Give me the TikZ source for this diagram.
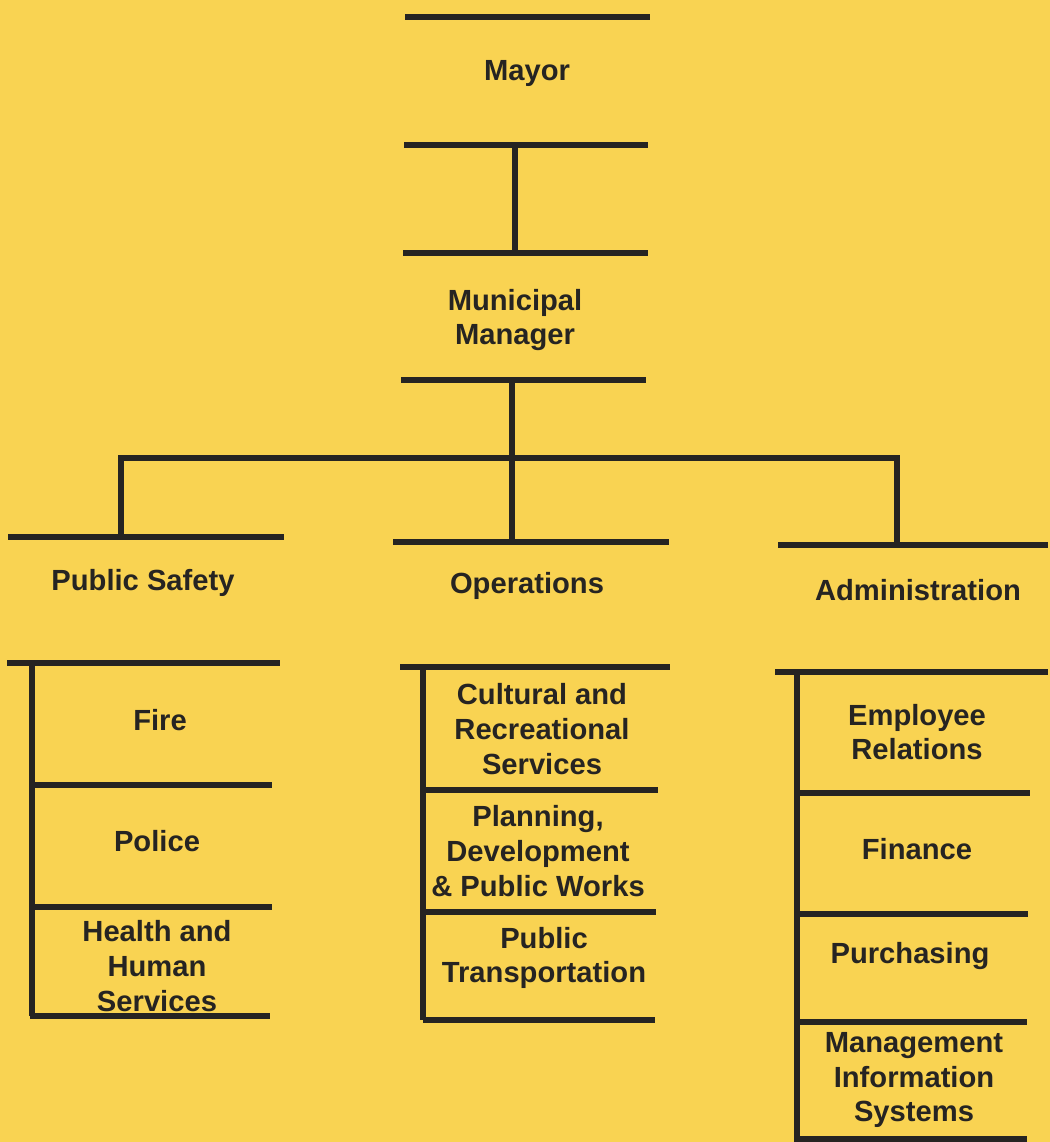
\documentclass[tikz,border=0pt]{standalone}
\usepackage{fontspec}
\setmainfont{Liberation Sans}
\definecolor{chartbg}{RGB}{249,211,82}
\definecolor{ink}{RGB}{38,36,34}
\tikzset{
  bar/.style={draw=ink,line width=2.9pt},
  lbl/.style={text=ink,font=\fontsize{16.6}{19.8}\selectfont\bfseries,align=center,inner sep=0pt},
}

\begin{document}
\begin{tikzpicture}[x=0.02cm,y=-0.02cm]
  \fill[chartbg] (0,0) rectangle (1050,1142);
  \useasboundingbox (0,0) rectangle (1050,1142);

% MAYOR AND MANAGER ===========================================================
  \draw[bar] (405,17) to (650,17);
  \node[lbl] (mayor) at (527,73) {Mayor};
  \draw[bar] (404,145) to (648,145);
  \draw[bar] (403,253) to (648,253);
  \coordinate (mayorlink) at (515,145);
  \coordinate (mgrlink) at (515,253);
  \draw[bar] (mayorlink) to (mgrlink);

  \node[lbl] (manager) at (515,320) {Municipal\\Manager};
  \draw[bar] (401,380) to (646,380);

% BRANCHES ====================================================================
  \coordinate (mgrbar) at (512,380);
  \coordinate (split) at (512,458);
  \coordinate (safetytop) at (121,537);
  \coordinate (opstop) at (512,542);
  \coordinate (admintop) at (897,545);
  \draw[bar] (safetytop) |- (split) -| (admintop);
  \draw[bar] (mgrbar) to (opstop);

  \draw[bar] (8,537) to (284,537); % Public Safety
  \draw[bar] (393,542) to (669,542); % Operations
  \draw[bar] (778,545) to (1048,545); % Administration

  \node[lbl] (safety) at (143,583) {Public Safety};
  \node[lbl] (ops) at (527,586) {Operations};
  \node[lbl] (admin) at (918,590) {Administration};

% PUBLIC SAFETY COLUMN ========================================================
  \draw[bar] (7,663) to (280,663);
  \draw[bar] (32,663) to (32,1016);
  \draw[bar] (32,785) to (272,785);
  \draw[bar] (32,907) to (272,907);
  \draw[bar] (30,1016) to (270,1016);

  \node[lbl] (fire) at (160,720) {Fire};
  \node[lbl] (police) at (157,841) {Police};
  \node[lbl] (health) at (157,966) {Health and\\Human\\Services};

% OPERATIONS COLUMN ===========================================================
  \draw[bar] (400,667) to (670,667);
  \draw[bar] (423,667) to (423,1020);
  \draw[bar] (423,790) to (658,790);
  \draw[bar] (423,912) to (656,912);
  \draw[bar] (423,1020) to (655,1020);

  \node[lbl] (culture) at (542,729) {Cultural and\\Recreational\\Services};
  \node[lbl] (planning) at (538,851) {Planning,\\Development\\\& Public Works};
  \node[lbl] (transit) at (544,958) {Public\\Transportation};

% ADMINISTRATION COLUMN =======================================================
  \draw[bar] (775,672) to (1048,672);
  \draw[bar] (797,672) to (797,1142);
  \draw[bar] (797,793) to (1030,793);
  \draw[bar] (797,914) to (1028,914);
  \draw[bar] (797,1022) to (1027,1022);
  \draw[bar] (797,1139) to (1027,1139);

  \node[lbl] (employee) at (917,732) {Employee\\Relations};
  \node[lbl] (finance) at (917,849) {Finance};
  \node[lbl] (purchasing) at (910,956) {Purchasing};
  \node[lbl] (mis) at (914,1080) {Management\\Information\\Systems};

\end{tikzpicture}
\end{document}
